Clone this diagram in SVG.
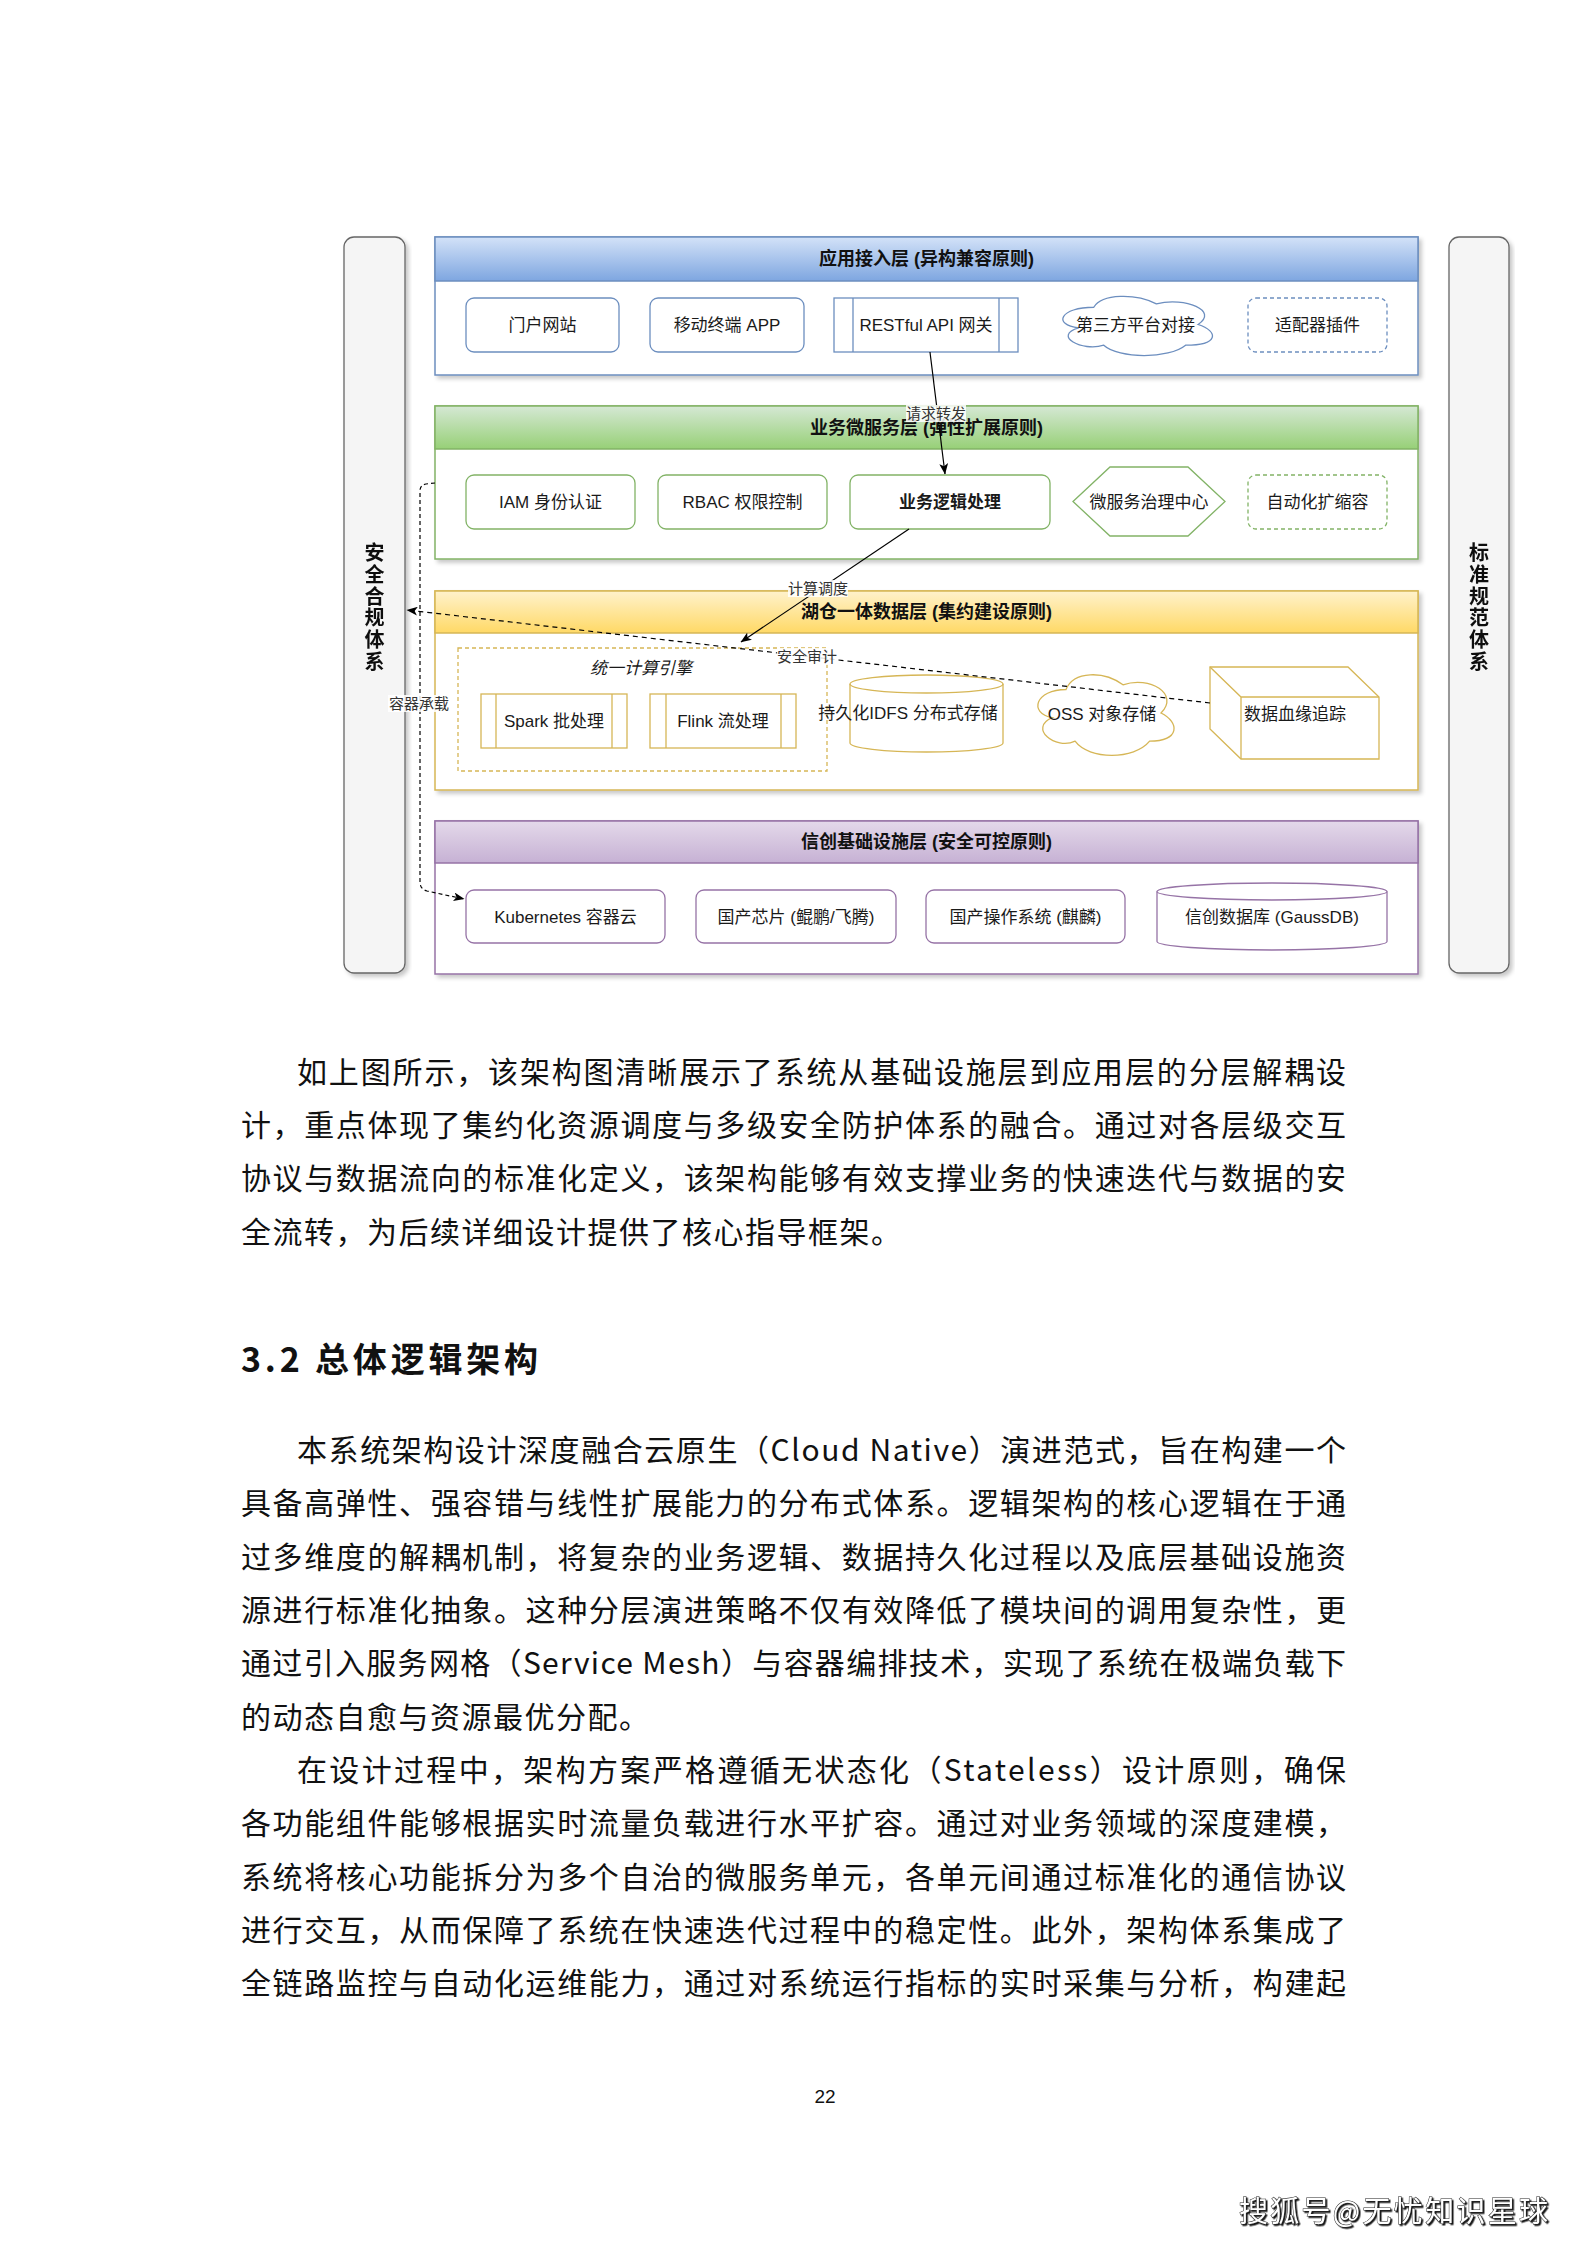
<svg xmlns="http://www.w3.org/2000/svg" width="1587" height="2245" viewBox="0 0 1587 2245">
<style>
.n{font-family:"Liberation Sans","Noto Sans CJK SC",sans-serif;font-size:17px;fill:#1a1a1a;text-anchor:middle}
.t{font-family:"Liberation Sans","Noto Sans CJK SC",sans-serif;font-size:18px;font-weight:bold;fill:#111;text-anchor:middle}
.lb{font-family:"Liberation Sans","Noto Sans CJK SC",sans-serif;font-size:15px;fill:#333;text-anchor:middle}
.side{font-family:"Liberation Sans","Noto Sans CJK SC",sans-serif;font-size:20px;font-weight:bold;fill:#111;text-anchor:middle}
.body{font-family:"Noto Sans CJK SC",sans-serif;font-size:30px;fill:#111;letter-spacing:1.5px}
.bodyj{font-family:"Noto Sans CJK SC",sans-serif;font-size:30px;fill:#111}
.b{fill:#fff;stroke:#6c8ebf;stroke-width:1.3}
.g{fill:#fff;stroke:#82b366;stroke-width:1.3}
.y{fill:#fff;stroke:#d6b656;stroke-width:1.3}
.p{fill:#fff;stroke:#9673a6;stroke-width:1.3}
.dash{stroke-dasharray:4 3}
.bar{fill:#f5f5f5;stroke:#666;stroke-width:1.3}
.conn{fill:none;stroke:#000;stroke-width:1.2}
.lbg{fill:#fff;opacity:0.85}
</style>
<defs>
<linearGradient id="gB" x1="0" y1="0" x2="0" y2="1"><stop offset="0" stop-color="#d3e2f8"/><stop offset="1" stop-color="#7ea6e0"/></linearGradient>
<linearGradient id="gG" x1="0" y1="0" x2="0" y2="1"><stop offset="0" stop-color="#d5e8d4"/><stop offset="1" stop-color="#97d077"/></linearGradient>
<linearGradient id="gY" x1="0" y1="0" x2="0" y2="1"><stop offset="0" stop-color="#fff2cc"/><stop offset="1" stop-color="#ffd966"/></linearGradient>
<linearGradient id="gP" x1="0" y1="0" x2="0" y2="1"><stop offset="0" stop-color="#e4d9ea"/><stop offset="1" stop-color="#c6b1d4"/></linearGradient>
<filter id="sh" x="-5%" y="-5%" width="115%" height="115%"><feDropShadow dx="3" dy="3" stdDeviation="2" flood-color="#000" flood-opacity="0.22"/></filter>
<filter id="tsh" x="-5%" y="-20%" width="115%" height="150%"><feDropShadow dx="1.5" dy="1.5" stdDeviation="0.5" flood-color="#000" flood-opacity="0.9"/></filter>
<marker id="arr" viewBox="0 0 10 8" refX="9.5" refY="4" markerWidth="11" markerHeight="9" markerUnits="userSpaceOnUse" orient="auto"><path d="M0,0 L10,4 L0,8 L2.5,4 Z" fill="#000"/></marker>
</defs>
<rect width="1587" height="2245" fill="#fff"/>

<!-- side bars -->
<g id="bar-security" filter="url(#sh)">
<rect class="bar" x="344" y="237" width="61" height="736" rx="10"/>
<text class="side" x="374.5" y="560"><tspan x="374.5">安</tspan><tspan x="374.5" dy="21.8">全</tspan><tspan x="374.5" dy="21.8">合</tspan><tspan x="374.5" dy="21.8">规</tspan><tspan x="374.5" dy="21.8">体</tspan><tspan x="374.5" dy="21.8">系</tspan></text>
</g>
<g id="bar-standard" filter="url(#sh)">
<rect class="bar" x="1449" y="237" width="60" height="736" rx="10"/>
<text class="side" x="1479" y="560"><tspan x="1479">标</tspan><tspan x="1479" dy="21.8">准</tspan><tspan x="1479" dy="21.8">规</tspan><tspan x="1479" dy="21.8">范</tspan><tspan x="1479" dy="21.8">体</tspan><tspan x="1479" dy="21.8">系</tspan></text>
</g>

<!-- layers -->
<g id="layer-app">
<rect x="435" y="237" width="983" height="138" fill="#fff" stroke="#6c8ebf" stroke-width="1.5" filter="url(#sh)"/>
<rect x="435" y="237" width="983" height="44" fill="url(#gB)" stroke="#6c8ebf" stroke-width="1.5"/>
<text class="t" x="926.5" y="265">应用接入层 (异构兼容原则)</text>
</g>
<g id="layer-service">
<rect x="435" y="406" width="983" height="153" fill="#fff" stroke="#82b366" stroke-width="1.5" filter="url(#sh)"/>
<rect x="435" y="406" width="983" height="43" fill="url(#gG)" stroke="#82b366" stroke-width="1.5"/>
<text class="t" x="926.5" y="434">业务微服务层 (弹性扩展原则)</text>
</g>
<g id="layer-data">
<rect x="435" y="591" width="983" height="199" fill="#fff" stroke="#d6b656" stroke-width="1.5" filter="url(#sh)"/>
<rect x="435" y="591" width="983" height="42" fill="url(#gY)" stroke="#d6b656" stroke-width="1.5"/>
<text class="t" x="926.5" y="618">湖仓一体数据层 (集约建设原则)</text>
</g>
<g id="layer-infra">
<rect x="435" y="821" width="983" height="153" fill="#fff" stroke="#9673a6" stroke-width="1.5" filter="url(#sh)"/>
<rect x="435" y="821" width="983" height="42" fill="url(#gP)" stroke="#9673a6" stroke-width="1.5"/>
<text class="t" x="926.5" y="848">信创基础设施层 (安全可控原则)</text>
</g>

<!-- layer 1 nodes -->
<g id="portal"><rect class="b" x="466" y="298" width="153" height="54" rx="8"/><text class="n" x="542.5" y="331">门户网站</text></g>
<g id="mobile"><rect class="b" x="650" y="298" width="154" height="54" rx="8"/><text class="n" x="727" y="331">移动终端 APP</text></g>
<g id="gateway"><rect class="b" x="834" y="298" width="184" height="54"/><line x1="853" y1="298" x2="853" y2="352" stroke="#6c8ebf" stroke-width="1.3"/><line x1="999" y1="298" x2="999" y2="352" stroke="#6c8ebf" stroke-width="1.3"/><text class="n" x="926" y="331">RESTful API 网关</text></g>
<g id="thirdparty"><path class="b" d="M1093.75,307.25 C1060.35,307.25 1052,324.5 1078.72,327.95 C1052,335.54 1082.06,352.1 1103.77,345.2 C1118.8,359 1168.9,359 1185.6,345.2 C1219,345.2 1219,331.4 1198.1,324.5 C1219,310.7 1185.6,296.9 1156.4,303.8 C1135.5,293.45 1102.1,293.45 1093.75,307.25 Z"/><text class="n" x="1135.5" y="331">第三方平台对接</text></g>
<g id="adapter"><rect class="b dash" x="1248" y="298" width="139" height="54" rx="8"/><text class="n" x="1317.5" y="331">适配器插件</text></g>

<!-- layer 2 nodes -->
<g id="iam"><rect class="g" x="466" y="475" width="169" height="54" rx="8"/><text class="n" x="550.5" y="508">IAM 身份认证</text></g>
<g id="rbac"><rect class="g" x="658" y="475" width="169" height="54" rx="8"/><text class="n" x="742.5" y="508">RBAC 权限控制</text></g>
<g id="logic"><rect class="g" x="850" y="475" width="200" height="54" rx="8"/><text class="n" x="950" y="508" font-weight="bold">业务逻辑处理</text></g>
<g id="governance"><polygon class="g" points="1073,501.5 1110,467 1188,467 1225,501.5 1188,536 1110,536"/><text class="n" x="1149" y="508">微服务治理中心</text></g>
<g id="autoscale"><rect class="g dash" x="1248" y="475" width="139" height="54" rx="8"/><text class="n" x="1317.5" y="508">自动化扩缩容</text></g>

<!-- layer 3 nodes -->
<g id="engine-group"><rect x="458" y="648" width="369" height="123" fill="none" stroke="#d6b656" stroke-width="1.3" stroke-dasharray="4 3"/><text class="n" x="641" y="674" font-style="italic" font-size="16">统一计算引擎</text></g>
<g id="spark"><rect class="y" x="481" y="694" width="146" height="54"/><line x1="496" y1="694" x2="496" y2="748" stroke="#d6b656" stroke-width="1.3"/><line x1="612" y1="694" x2="612" y2="748" stroke="#d6b656" stroke-width="1.3"/><text class="n" x="554" y="727">Spark 批处理</text></g>
<g id="flink"><rect class="y" x="650" y="694" width="146" height="54"/><line x1="666" y1="694" x2="666" y2="748" stroke="#d6b656" stroke-width="1.3"/><line x1="781" y1="694" x2="781" y2="748" stroke="#d6b656" stroke-width="1.3"/><text class="n" x="723" y="727">Flink 流处理</text></g>
<g id="hdfs"><path class="y" d="M850,684 A76.5,9 0 0 1 1003,684 L1003,743 A76.5,9 0 0 1 850,743 Z"/><path d="M850,684 A76.5,9 0 0 0 1003,684" fill="none" stroke="#d6b656" stroke-width="1.3"/><text class="n" x="908" y="719">持久化IDFS 分布式存储</text></g>
<g id="oss"><path class="y" d="M1066,689.5 C1035.6,689.5 1028,713 1052.3,717.7 C1028,728 1055.4,750.6 1075.1,741.2 C1088.8,760 1134.4,760 1149.6,741.2 C1180,741.2 1180,722.4 1161,713 C1180,694.2 1149.6,675.4 1123,684.8 C1104,670.7 1073.6,670.7 1066,689.5 Z"/><text class="n" x="1102" y="720">OSS 对象存储</text></g>
<g id="lineage"><path class="y" d="M1210,667 L1348,667 L1379,697 L1379,759 L1241,759 L1210,729 Z"/><path d="M1210,667 L1241,697 L1379,697 M1241,697 L1241,759" fill="none" stroke="#d6b656" stroke-width="1.3"/><text class="n" x="1295" y="720">数据血缘追踪</text></g>

<!-- layer 4 nodes -->
<g id="k8s"><rect class="p" x="466" y="890" width="199" height="53" rx="8"/><text class="n" x="565.5" y="923">Kubernetes 容器云</text></g>
<g id="chip"><rect class="p" x="696" y="890" width="200" height="53" rx="8"/><text class="n" x="796" y="923">国产芯片 (鲲鹏/飞腾)</text></g>
<g id="os"><rect class="p" x="926" y="890" width="199" height="53" rx="8"/><text class="n" x="1025.5" y="923">国产操作系统 (麒麟)</text></g>
<g id="gaussdb"><path class="p" d="M1157,891.5 A115,8.5 0 0 1 1387,891.5 L1387,941.5 A115,8.5 0 0 1 1157,941.5 Z"/><path d="M1157,891.5 A115,8.5 0 0 0 1387,891.5" fill="none" stroke="#9673a6" stroke-width="1.3"/><text class="n" x="1272" y="923">信创数据库 (GaussDB)</text></g>

<!-- connectors -->
<g id="connectors">
<path class="conn" d="M930,352 L945,474" marker-end="url(#arr)"/>
<rect class="lbg" x="906" y="405" width="60" height="17"/>
<text class="lb" x="936" y="419">请求转发</text>
<path class="conn" d="M909,529 L741,642" marker-end="url(#arr)"/>
<rect class="lbg" x="788" y="580" width="60" height="17"/>
<text class="lb" x="818" y="594">计算调度</text>
<path class="conn" d="M1210,703 L407,610" stroke-width="2" stroke-dasharray="5 4" marker-end="url(#arr)"/>
<rect class="lbg" x="777" y="648" width="60" height="17"/>
<text class="lb" x="807" y="662">安全审计</text>
<path class="conn" d="M435,483 L426,484 Q420,485 420,491 L420,882 Q420,889 427,891 L464,899" stroke-dasharray="4 3" marker-end="url(#arr)"/>
<rect class="lbg" x="388" y="695" width="62" height="17"/>
<text class="lb" x="419" y="709">容器承载</text>
</g>

<!-- body text -->
<g id="text">
<text class="bodyj" x="297" y="1083" textLength="1049" lengthAdjust="spacing">如上图所示，该架构图清晰展示了系统从基础设施层到应用层的分层解耦设</text>
<text class="bodyj" x="241" y="1136" textLength="1105" lengthAdjust="spacing">计，重点体现了集约化资源调度与多级安全防护体系的融合。通过对各层级交互</text>
<text class="bodyj" x="241" y="1189" textLength="1105" lengthAdjust="spacing">协议与数据流向的标准化定义，该架构能够有效支撑业务的快速迭代与数据的安</text>
<text class="body" x="241" y="1243">全流转，为后续详细设计提供了核心指导框架。</text>

<text x="241" y="1372" font-family="Noto Sans CJK SC, sans-serif" font-size="34" font-weight="bold" fill="#111" textLength="297" lengthAdjust="spacing">3.2 总体逻辑架构</text>

<text class="bodyj" x="297" y="1461" textLength="1049" lengthAdjust="spacing">本系统架构设计深度融合云原生（Cloud Native）演进范式，旨在构建一个</text>
<text class="bodyj" x="241" y="1514" textLength="1105" lengthAdjust="spacing">具备高弹性、强容错与线性扩展能力的分布式体系。逻辑架构的核心逻辑在于通</text>
<text class="bodyj" x="241" y="1567.5" textLength="1105" lengthAdjust="spacing">过多维度的解耦机制，将复杂的业务逻辑、数据持久化过程以及底层基础设施资</text>
<text class="bodyj" x="241" y="1621" textLength="1105" lengthAdjust="spacing">源进行标准化抽象。这种分层演进策略不仅有效降低了模块间的调用复杂性，更</text>
<text class="bodyj" x="241" y="1674" textLength="1105" lengthAdjust="spacing">通过引入服务网格（Service Mesh）与容器编排技术，实现了系统在极端负载下</text>
<text class="body" x="241" y="1727.5">的动态自愈与资源最优分配。</text>

<text class="bodyj" x="297" y="1781" textLength="1049" lengthAdjust="spacing">在设计过程中，架构方案严格遵循无状态化（Stateless）设计原则，确保</text>
<text class="bodyj" x="241" y="1834" textLength="1105" lengthAdjust="spacing">各功能组件能够根据实时流量负载进行水平扩容。通过对业务领域的深度建模，</text>
<text class="bodyj" x="241" y="1887.5" textLength="1105" lengthAdjust="spacing">系统将核心功能拆分为多个自治的微服务单元，各单元间通过标准化的通信协议</text>
<text class="bodyj" x="241" y="1941" textLength="1105" lengthAdjust="spacing">进行交互，从而保障了系统在快速迭代过程中的稳定性。此外，架构体系集成了</text>
<text class="bodyj" x="241" y="1994" textLength="1105" lengthAdjust="spacing">全链路监控与自动化运维能力，通过对系统运行指标的实时采集与分析，构建起</text>

<text x="825" y="2103" font-family="Liberation Sans, sans-serif" font-size="19" fill="#111" text-anchor="middle">22</text>
<text x="1239" y="2222" font-family="Noto Sans CJK SC, sans-serif" font-size="29" fill="#fff" stroke="#222" stroke-width="1" paint-order="stroke" filter="url(#tsh)" textLength="309" lengthAdjust="spacing">搜狐号@无忧知识星球</text>
</g>
</svg>
